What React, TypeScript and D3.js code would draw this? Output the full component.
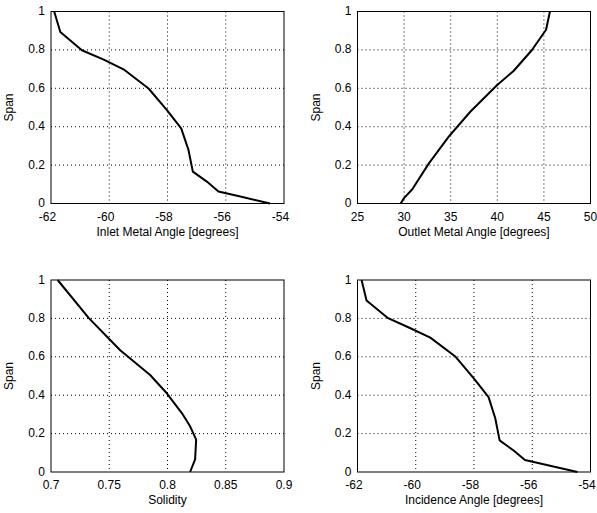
import React from 'react';
import * as d3 from 'd3';

// span values shared by all four profiles (per panel)
const inletAngle = [-61.89, -61.68, -60.94, -60.19, -59.51, -58.65, -58.02, -57.53, -57.28, -57.13, -56.65, -56.25, -55.5, -54.48];
const inletSpan = [1, 0.893, 0.798, 0.749, 0.699, 0.599, 0.486, 0.391, 0.279, 0.166, 0.114, 0.062, 0.036, 0];

const outletAngle = [29.63, 29.99, 30.88, 32.66, 34.79, 37.1, 39.96, 41.74, 43.7, 45.23, 45.65];
const outletSpan = [0, 0.028, 0.074, 0.209, 0.348, 0.478, 0.616, 0.69, 0.798, 0.905, 1];

const solidity = [0.7057, 0.7323, 0.7594, 0.7851, 0.7994, 0.8123, 0.8194, 0.8246, 0.8237, 0.8194];
const soliditySpan = [1, 0.803, 0.634, 0.505, 0.41, 0.307, 0.238, 0.169, 0.066, 0];

const incidenceAngle = [-61.86, -61.69, -60.97, -60.2, -59.5, -58.63, -58.0, -57.5, -57.27, -57.12, -56.65, -56.25, -55.5, -54.45];
const incidenceSpan = [1, 0.893, 0.803, 0.75, 0.7, 0.6, 0.486, 0.39, 0.28, 0.165, 0.113, 0.062, 0.036, 0];

const spanTicks = [0, 0.2, 0.4, 0.6, 0.8, 1];

type Panel = {
  xs: number[];
  ys: number[];
  domain: [number, number];
  ticks: number[];
  label: string;
  left: number;
  top: number;
};

const panelW = 233;
const panelH = 192;

const panels: Panel[] = [
  { xs: inletAngle, ys: inletSpan, domain: [-62, -54], ticks: [-62, -60, -58, -56, -54], label: 'Inlet Metal Angle [degrees]', left: 51, top: 11.5 },
  { xs: outletAngle, ys: outletSpan, domain: [25, 50], ticks: [25, 30, 35, 40, 45, 50], label: 'Outlet Metal Angle [degrees]', left: 357.5, top: 11.5 },
  { xs: solidity, ys: soliditySpan, domain: [0.7, 0.9], ticks: [0.7, 0.75, 0.8, 0.85, 0.9], label: 'Solidity', left: 51, top: 280 },
  { xs: incidenceAngle, ys: incidenceSpan, domain: [-62, -54], ticks: [-62, -60, -58, -56, -54], label: 'Incidence Angle [degrees]', left: 357.5, top: 280 },
];

const font = 'Liberation Sans, Arial, sans-serif';
const fs = 12;

const Subplot = ({ p }: { p: Panel }) => {
  const x = d3.scaleLinear().domain(p.domain).range([0, panelW]);
  const y = d3.scaleLinear().domain([0, 1]).range([panelH, 0]);
  const pts = p.xs.map((v, i) => [v, p.ys[i]] as [number, number]);
  const line = d3.line<[number, number]>().x(d => x(d[0])).y(d => y(d[1]));
  const fmt = (v: number) => String(+v.toFixed(2));

  return (
    <g transform={`translate(${p.left},${p.top})`}>
      <rect width={panelW} height={panelH} fill="white" />
      {p.ticks.slice(1, -1).map(t => (
        <line key={'gx' + t} x1={x(t)} x2={x(t)} y1={0} y2={panelH} stroke="black" strokeWidth={1} strokeDasharray="1,3" />
      ))}
      {spanTicks.slice(1, -1).map(t => (
        <line key={'gy' + t} x1={0} x2={panelW} y1={y(t)} y2={y(t)} stroke="black" strokeWidth={1} strokeDasharray="1,3" />
      ))}
      <path d={line(pts) ?? ''} fill="none" stroke="black" strokeWidth={2} strokeLinejoin="round" />
      <rect width={panelW} height={panelH} fill="none" stroke="black" strokeWidth={1} />
      {p.ticks.map(t => (
        <text key={'tx' + t} x={x(t) - (t < 0 ? 3.5 : 0)} y={panelH + 17} textAnchor="middle" fontSize={fs} fontFamily={font}>
          {fmt(t)}
        </text>
      ))}
      {spanTicks.map(t => (
        <text key={'ty' + t} x={-6} y={y(t) + 3.5} textAnchor="end" fontSize={fs} fontFamily={font}>
          {fmt(t)}
        </text>
      ))}
      <text x={panelW / 2} y={panelH + 32} textAnchor="middle" fontSize={fs} fontFamily={font}>
        {p.label}
      </text>
      <text transform={`translate(${-38},${panelH / 2}) rotate(-90)`} textAnchor="middle" fontSize={fs} fontFamily={font}>
        Span
      </text>
    </g>
  );
};

export default function App() {
  return (
    <svg width={597} height={513} style={{ position: 'absolute', left: 0, top: 0, background: 'white' }}>
      <rect width={597} height={513} fill="white" />
      {panels.map(p => (
        <Subplot key={p.label} p={p} />
      ))}
    </svg>
  );
}
